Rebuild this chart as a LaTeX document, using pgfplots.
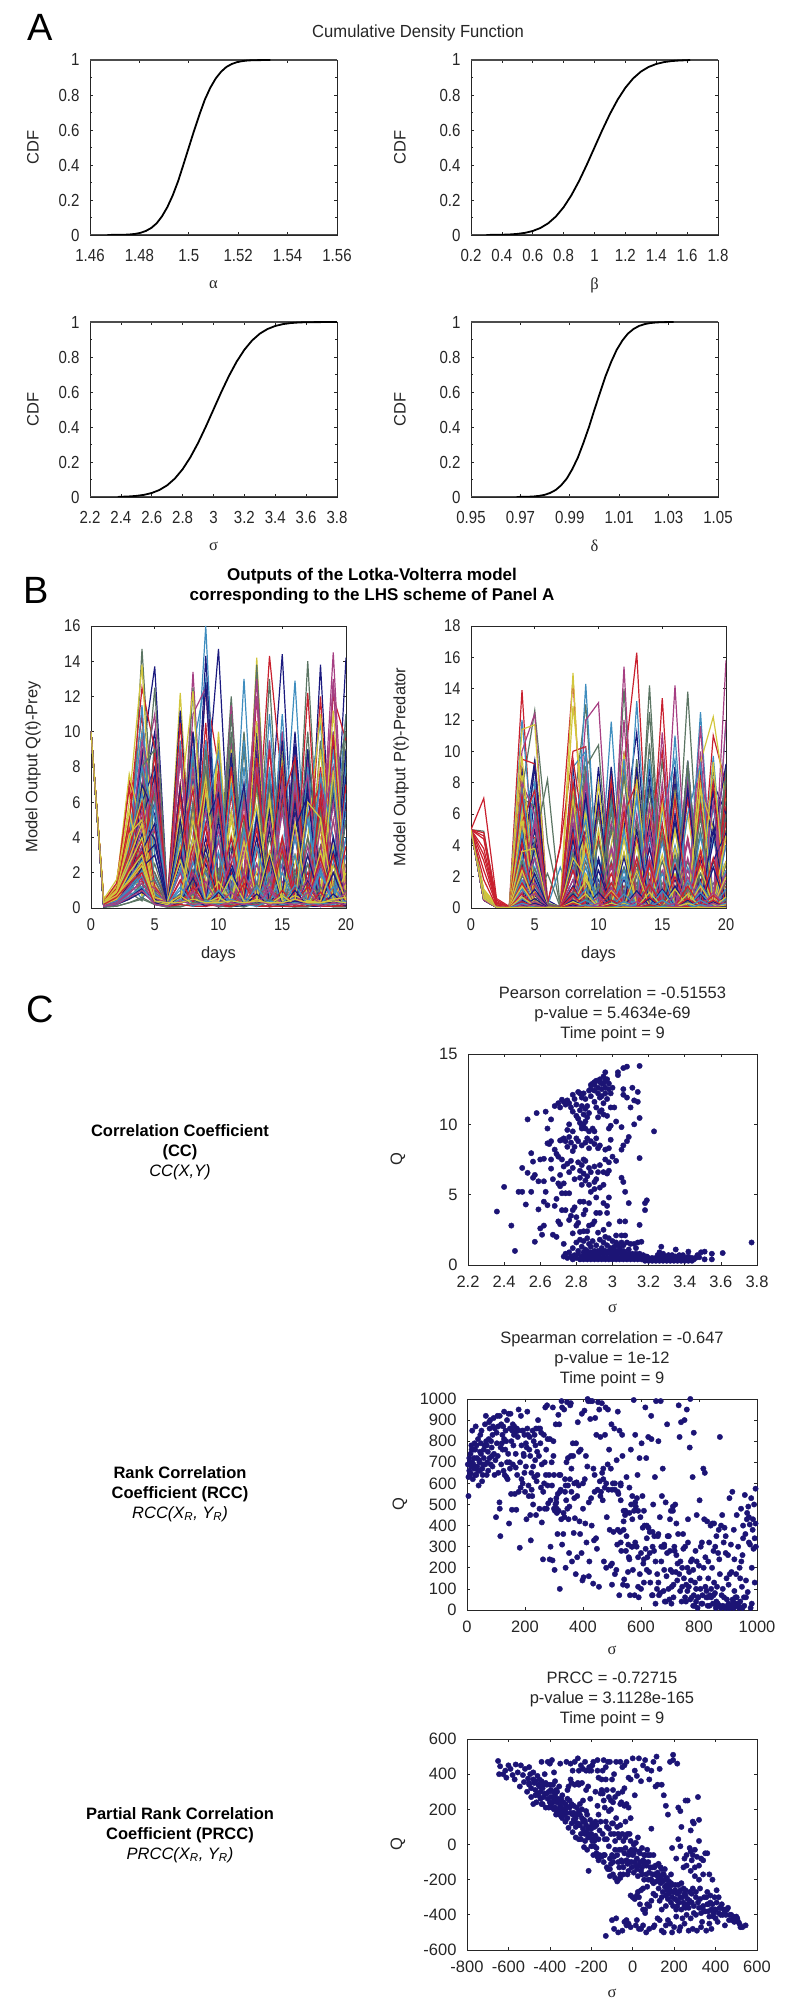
\documentclass[border=0pt]{standalone}
\usepackage{fontspec}
\usepackage{pgfplots}
\usepackage{pgfplotstable}
\pgfplotsset{compat=1.18}
\setmainfont{Liberation Sans}
\newfontfamily\narrowf[FakeStretch=0.86]{Liberation Sans}
\newfontfamily\titlef[FakeStretch=0.95]{Liberation Sans}
\newfontfamily\greekf{Liberation Serif}
\definecolor{lvn}{HTML}{1B1A7F}
\definecolor{lvg}{HTML}{5B7563}
\definecolor{lvr}{HTML}{C9202E}
\definecolor{lvt}{HTML}{3F8DBF}
\definecolor{lvp}{HTML}{A63F83}
\definecolor{lvy}{HTML}{D2C63C}
\definecolor{dots}{HTML}{1C1475}
\pgfplotscreateplotcyclelist{lv}{{lvn},{lvg},{lvr},{lvt},{lvp},{lvy}}

% CDF curves, one x column per panel
\pgfplotstableread{
x1 x2 x3 x4 y
1.4670 0.30 2.38 0.9685 0.0002
1.4739 0.40 2.40 0.9730 0.0013
1.4761 0.45 2.45 0.9753 0.0030
1.4783 0.50 2.50 0.9775 0.0062
1.4804 0.55 2.55 0.9798 0.0122
1.4826 0.60 2.60 0.9820 0.0228
1.4848 0.65 2.65 0.9843 0.0401
1.4870 0.70 2.70 0.9865 0.0668
1.4891 0.75 2.75 0.9888 0.1056
1.4913 0.80 2.80 0.9910 0.1587
1.4935 0.85 2.85 0.9933 0.2266
1.4957 0.90 2.90 0.9955 0.3085
1.4978 0.95 2.95 0.9978 0.4013
1.5000 1.00 3.00 1.0000 0.5000
1.5022 1.05 3.05 1.0023 0.5987
1.5044 1.10 3.10 1.0045 0.6915
1.5065 1.15 3.15 1.0068 0.7734
1.5087 1.20 3.20 1.0090 0.8413
1.5109 1.25 3.25 1.0113 0.8944
1.5131 1.30 3.30 1.0135 0.9332
1.5152 1.35 3.35 1.0158 0.9599
1.5174 1.40 3.40 1.0180 0.9772
1.5196 1.45 3.45 1.0203 0.9878
1.5218 1.50 3.50 1.0225 0.9938
1.5239 1.55 3.55 1.0248 0.9970
1.5261 1.60 3.60 1.0270 0.9987
1.5330 1.62 3.80 1.0320 1.0000
}\cdfdata

% prey, one row per run
\pgfplotstableread{
id 0 1 2 3 4 5 6 7 8 9 10 11 12 13 14 15 16 17 18 19 20
s1 10 .2 .7 2.6 8.5 13.7 .5 .3 1.4 6 14.7 .9 .3 1 4.5 14.4 .7 .3 13.8 .5 14.2
s2 10 .1 .3 1.5 14.7 3 .3 .5 2.5 8 1.2 12 .4 .4 2 9 .5 14 .7 .3 1.2
s3 10 .3 1 5 12.5 9 .5 .4 3 12.5 8 .5 .5 3 14.3 7 .5 .5 3 12 9.5
s4 10 .3 .9 4 10 3 .4 .8 4 16 1 .3 13 .5 .4 2.5 12.9 .5 .5 2.5 11
s5 10 .2 .6 2 7 11 .5 .5 13.4 1 .3 11.5 .5 .5 2 10 .6 .4 2 14.5 1
s6 10 .4 1.2 6 13.8 1 .3 12.2 .5 .3 10 .5 .4 14.2 .6 .5 2.5 5.5 4 1 8
s7 10 .2 .5 2 6 8 .4 11.2 .6 14.3 .8 .3 1 10 .5 8 .4 9 .5 .3 6
s8 10 .1 .3 1.2 4 12.5 .5 .3 12.5 .6 .3 10 .4 13.8 .5 .4 8.5 .4 .4 7 10
s9 10 .3 1.1 7.2 5 .8 .4 10.5 1 10.5 .8 .5 .9 12 1 .6 6 1 12 .6 .5
s10 10 .3 .8 3.5 11.5 1 .4 2 9 13 .6 .4 9.5 .7 1 11 .5 6 10.5 .5 8
s11 10 .2 .7 3 9.5 6 .4 .4 11 12.5 .5 .4 2 13 .5 2 9 .5 .5 12.8 .8
s12 10 .4 1.3 7.6 4.5 1 .5 6 12.3 .8 .4 7.6 .6 10.6 .7 9.4 .5 4 11 .7 1
s13 10 .1 .4 1.8 7 5.3 .3 6.8 .5 12.8 .5 8.8 .4 .6 7 .5 9.3 .5 6 .5 7.5
s14 10 .2 .4 1.4 8 9 .3 .5 6 .4 .4 11 .6 .3 13 .4 .4 10 .3 8 .4
s15 10 .4 1.4 6.8 2 7.2 .3 .6 4 9 1 .4 6 .4 9 1 .5 12.2 .6 .5 7
s16 10 .2 .6 3 8 5 .6 3 .5 9.5 .4 .6 7 .4 11 .5 .5 5.5 .5 9 .5
s17 10 .2 .5 2.4 5.5 .8 .4 8.5 .5 .4 6 .5 4 12 .5 .5 7 .5 .4 13 .5
s18 10 .5 1.6 5.5 2 1.1 .6 4.5 6.9 .5 .4 5.5 .9 6.7 .5 .6 3 .6 5 .4 .6
s19 10 .2 .6 2 5 3.9 .4 2.5 10 .5 .4 3 7 .4 .4 9.5 .4 6.5 2 .4 9
s20 10 .1 .2 1 3.5 6.5 .2 4.5 .3 9 .3 .3 5 .3 7 .3 6 .3 5.5 .3 11
s21 10 .3 .9 4.5 1.5 8.8 .5 .6 2.5 7 .5 8 .8 4.5 .6 6 8.5 .5 .5 9.8 .7
s22 10 .2 .7 2.8 6.5 .9 .5 4 .5 5.5 8.8 .5 .5 5.5 .5 7 .5 3 7 .4 3
s23 10 .2 .5 2.2 4.5 7 .4 .5 8 .5 3.8 .4 6 .5 5 .4 5 7.5 .4 6 .4
s24 10 .4 1 3.8 6.1 .7 .4 .5 3 7.4 .5 5 .5 2 6 .4 .9 .7 .5 11.2 .6
s25 10 .1 .4 1.6 4.2 1 .3 3.2 .3 4.8 6.5 .3 .4 4 .4 .9 4.5 6.4 .3 .3 5
s26 10 .1 .3 1 3 2 .2 .5 5 .3 2 .3 .3 7 .3 3 .3 4 .3 3 .3
s27 10 .3 1 3.3 6 1.2 .3 6.4 .5 3.5 6 .4 .5 7.5 2 .5 .4 5.2 7 .5 .5
s28 10 .2 .6 2.6 1 .6 .3 1 4 .4 .4 6.8 .4 .3 .8 5.5 .5 .5 7.5 4 .3
s29 10 .2 .4 1.5 3.5 4.5 .3 .3 3 5.5 .3 .3 3.2 .3 .3 7 .3 .3 4.5 8 .3
s30 10 .3 .9 4.2 5 .9 .5 5.2 .5 6.7 .6 4.2 .6 .5 6.3 .5 3 .5 .5 7.8 .4
s31 10 .1 .3 1.2 2.8 3.6 .3 5 .3 3.4 .3 2.5 .4 .4 3 .3 6 .3 .3 4 .3
s32 10 .1 .2 .8 2.2 .9 .2 .3 1.5 3 .2 .2 1.8 .2 4 .2 .2 2.5 .2 .2 5
s33 10 .3 .8 3 4.8 .7 .3 3 6.7 .4 .9 4 .4 .4 2.6 8 .4 .4 6 .4 3.5
s34 10 .2 .5 2 3 5.9 .4 .4 .7 2 .4 .4 4.5 .4 2 .4 .4 5 .4 .4 6.5
s35 10 .2 .4 1.3 2.5 1.5 .3 2 .3 .3 7.4 .3 .3 2.5 .3 5.5 .3 3.5 .3 5 .3
s36 10 .3 1 2.8 4.8 .5 .4 .5 5 1.5 .4 .4 3 5.8 .4 .4 4.8 .5 3.2 .4 2
s37 10 .1 .3 1.4 3.2 4.8 .3 .3 2 .3 5 .3 .3 5.2 .3 .3 .3 3 .3 3.2 .3
s38 10 .1 .2 .6 1.4 .7 .1 .8 .2 2.2 .2 1.1 .2 .2 1.6 .2 2 .2 .7 .2 1
s39 10 .3 .8 2.2 3.8 .6 .3 .4 .9 4.8 .4 2.5 5.3 .4 .4 4 .5 .5 2.8 .5 .5
s40 10 .2 .5 1.7 2.7 .8 .3 2.2 .3 .3 3.2 .3 .3 3.5 .8 .3 3 .3 2 .3 4
s41 10 .2 .4 1.2 2 .5 .3 .3 2 .4 .3 3 .3 .3 1.5 3.5 .3 .3 2.5 .3 .3
s42 10 .3 .9 2.5 4 .6 .4 2.7 .5 .4 1.5 .4 3.8 .5 .4 2 .4 6 5.1 .5 .4
s43 10 .1 .3 1 2.3 3 .2 .3 1.7 .2 .2 2.2 .2 .2 3 .2 .2 1.6 .2 2 .2
s44 10 .1 .2 .5 1.2 1.6 .1 .2 .8 .1 1 .1 .1 1.4 .1 .7 .1 .1 1.2 .1 .1
s45 10 .2 .7 2.1 3.2 .4 .2 1.6 .3 2.8 .3 .3 1.8 .3 .3 3.3 .3 1.2 .3 3 .2
s46 10 .2 .4 1.1 2.1 .4 .3 .3 2.6 .3 .3 1.8 .3 .3 .3 2 .3 .3 2.2 .3 .3
s47 10 .1 .3 .8 1.6 1.1 .2 .2 1 1.5 .2 .2 2 .2 1.2 .2 .2 1.7 .2 .2 1.5
s48 10 .2 .6 2 3 .3 .3 .4 4 .4 .4 1.8 .4 .4 3.2 .4 .7 .4 .4 2.4 .4
s49 10 .05 .2 .6 1.1 .5 .1 .7 .1 .1 .9 .1 .1 .8 .1 .1 1 .1 .1 .8 .1
s50 10 .05 .1 .3 .6 .2 .05 .1 .2 .5 .1 .05 .3 .1 .5 .1 .05 .3 .1 .1 .4
s51 10 .2 .5 1.6 2.5 .3 .1 .2 1.2 .2 .1 .1 1.4 .2 .1 1 .1 .1 .9 .1 .1
s52 10 .1 .3 1 1.8 .3 .2 1.2 .2 .2 1 .2 .2 1.2 .2 .2 1.3 .2 .2 1.2 .2
s53 10 .1 .3 .9 1.4 .3 .2 .2 .9 .2 .2 .9 .2 .2 1 .2 .2 .9 .2 .2 .9
s54 10 .2 .5 1.5 2.4 .3 .2 .7 .2 .3 .6 .2 .2 .5 .2 .7 .2 .4 .3 .5 .6
s55 10 .05 .2 .5 .9 .3 .1 .3 .5 .1 .3 .4 .1 .3 .4 .1 .4 .2 .1 .4 .1
s56 10 .05 .1 .3 .5 .2 .05 .05 .3 .4 .05 .2 .05 .3 .05 .2 .05 .05 .3 .05 .05
s57 10 .2 .6 1.4 2 .2 .1 .2 .1 .1 .2 .1 .3 .1 .1 .1 .1 .2 .1 .1 .2
s58 10 .1 .2 .7 1.2 .2 .1 .5 .1 .4 .2 .5 .2 .1 .4 .2 .3 .2 .3 .2 .4
s59 10 .1 .2 .6 1 .2 .1 .4 .2 .3 .1 .3 .2 .4 .2 .3 .2 .3 .1 .3 .2
s60 10 .3 .7 1.6 2.6 .4 .3 .3 .5 .3 .3 .4 .3 .4 .3 .3 .5 .3 .3 .4 .3
s61 10 .2 .6 3 9 .5 .3 7 .5 9.5 .4 8.5 .5 9 .4 10 .5 9 .4 9.5 .5
s62 10 .1 .4 2 .8 9.5 .4 .4 8.5 .5 9.5 .4 9 .4 9.5 .4 8 .4 9.5 .4 10
s63 10 .3 1 4.5 8 .6 .5 8.5 .6 .5 8 .6 .5 8.5 .6 .5 9 .6 .5 8 .6
s64 10 .2 .7 3.2 .7 7 .4 .4 9 .4 .4 9 .4 .5 8 .5 .4 9 .4 .5 9
s65 10 .2 .5 2.5 7 .5 .4 .4 .7 9 .5 .4 .5 9.5 .5 .5 .4 8.5 .5 .5 .4
s66 10 .3 .9 5 10 .7 .5 9 .6 .5 9 .6 .5 8 .6 8.5 .5 .6 9 .5 9
s67 10 .1 .4 2 6 10 .4 .4 7.5 .4 .4 7 .4 10.5 .4 .4 10 .4 .4 10 .4
s68 10 .2 .5 2.4 8 .4 .4 6 .4 .4 7 .8 10 .4 .4 7 .4 7.5 .5 .4 7
s69 10 .3 1 5 11 .7 .4 .5 10 .5 .4 6.5 .5 8 .5 .5 7.5 .5 8 .5 6
s70 10 .2 .6 3 .9 8 .4 9.5 .4 7.5 .5 .4 8 .4 7.5 .4 .4 8 .4 .4 8.5
s71 10 .2 .6 2.4 9 .5 .4 9 .6 8 .4 9.5 .4 .5 9.5 .4 8 .4 .5 10 .5
s72 10 .4 1.1 4 7 .6 .5 .5 8 .6 .5 9 .6 .5 .6 7.5 .5 .5 6 .6 .5
s73 10 .1 .3 1.6 5 7.5 .3 .3 5.5 .3 6.5 .3 .3 7.5 .3 6.5 .3 7 .3 6.5 .3
s74 10 .1 .3 1.4 6 .5 .3 5 .3 6.5 .3 .3 6.5 .3 6 .3 7 .3 .3 7 .3
s75 10 .3 .9 4 6.5 .6 .4 7 .5 .5 6.5 .5 7 .5 .5 7 .5 .5 7.5 .5 7
s76 10 .2 .6 2.6 .8 6 .4 .4 7 .4 .4 7 .4 .4 7.5 .4 7.5 .4 .4 7 .4
s77 10 .2 .5 2.2 6 .5 .4 6 .4 7 .4 .4 .5 8 .4 .4 7 .4 7.5 .4 .4
s78 10 .4 1.2 5 5.5 .7 .5 .6 5.5 .5 5.5 .5 .5 5 .5 8 .5 .5 4.5 .5 7.5
s79 10 .1 .4 1.8 3 6 .3 .3 .5 6 .3 5.5 .3 .3 5.5 .3 5.5 .3 .3 6 .3
s80 10 .1 .3 1.2 5 .4 .2 5 .3 .3 5.5 .3 4.5 .3 .3 6 .3 .3 5.5 .3 5
s81 10 .3 1 4.2 .8 6 .4 .4 6 .4 .4 6.5 .4 5 .4 .4 6.5 .4 6.5 .4 .4
s82 10 .2 .6 2.8 5 .5 .4 4 .4 5.5 .4 .4 4.5 .4 5 .4 .4 5.5 .4 .4 5.5
s83 10 .2 .5 2.3 4 .4 .3 .3 5 .3 4.5 .3 .3 5 .3 .3 4.5 .3 5 .3 .4
s84 10 .4 1.1 4.6 7 .6 .5 4 .5 .5 4 .5 5 .5 4.5 .5 .5 4 .5 5 .5
s85 10 .1 .4 1.6 3.5 .4 .3 3.5 .3 4 .3 4 .3 .3 4.5 .3 4 .3 3.5 .3 4
s86 10 .1 .3 1 2.5 4 .2 .3 3.5 .3 .3 3.5 .3 3.5 .3 3.8 .3 .3 3.5 .3 .3
s87 10 .3 .9 3.5 .9 4.5 .4 .4 3.5 4.5 .4 .4 4 .4 .4 4 .4 4 .4 4 .4
s88 10 .2 .6 2 4.2 .4 .3 3 .3 .3 4 .3 .3 3.5 .3 .3 4 .3 .3 3.5 .3
s89 10 .2 .5 1.8 3 .4 .3 .3 3 .3 3 .3 3.5 .3 3 .3 3 .3 3 .3 3
s90 10 .4 1 3.6 5 .5 .4 3.5 .4 3.5 .4 3 .4 3.5 .4 3.5 .4 3 .4 3.5 .4
s91 10 .1 .3 1.2 2.5 .3 .2 2.2 .2 2.5 .2 2.5 .2 2.5 .2 2.5 .2 2.5 .2 2.5 .2
s92 10 .1 .2 .9 .4 2.5 .2 .2 2.2 .2 2.2 .2 2.2 .2 2.5 .2 2.2 .2 2.2 .2 2.5
s93 10 .3 .8 2.8 1.5 2 .3 2 .3 2 .3 2 .3 2 .3 2 .3 2 .3 2 .3
s94 10 .2 .5 1.5 .5 1.8 .3 .3 1.8 .3 1.8 .3 1.8 .3 1.8 .3 1.8 .3 1.8 .3 1.8
s95 10 .2 .4 1.2 1.8 .3 .2 1.5 .2 1.5 .2 1.5 .2 1.5 .2 1.5 .2 1.5 .2 1.5 .2
s96 10 .3 .8 2.5 .7 1.3 .3 .3 1.3 .3 1.3 .3 1.3 .3 1.3 .3 1.3 .3 1.3 .3 1.3
}\preyraw
\pgfplotstabletranspose[colnames from=id]\preydata{\preyraw}

% predator, one row per run
\pgfplotstableread{
id 0 1 2 3 4 5 6 7 8 9 10 11 12 13 14 15 16 17 18 19 20
s1 5 .6 .05 .02 4 9.4 .5 .05 3 7.2 .5 .1 5 11.2 .5 .05 9 .5 .1 8 6
s2 5 .8 .1 .02 7.5 12.6 4.2 .1 6 13 1 .1 14 .5 14.2 .3 .2 13.8 .5 .1 9
s3 5 7 .6 .1 13.9 1 .2 4 14.6 .8 .1 .3 9 16.3 .6 13.4 .4 .2 .8 11 7.9
s4 5 1 .1 .02 12 3 .1 2.6 .5 14.3 .3 11.9 .2 13.2 .2 .1 11 .2 12.5 .2 11.9
s5 5 .6 .05 .01 10 12.4 .3 .05 .8 12 13.1 .2 15.4 .2 .1 .5 14.2 .1 .2 .3 15.8
s6 5 1.2 .2 .02 11.4 11.7 .3 .1 15 .4 .1 4 9.8 .4 .1 5 .2 .1 9.3 12.2 6.8
s7 5 .8 .1 .02 3.5 4.2 .2 .1 2.5 5 .3 9 .2 .3 4.9 .2 .1 9.4 .2 .1 6
s8 5 4.9 .3 .02 .5 4.2 8.2 .1 .8 9 10.4 .1 .1 2 12.5 .2 .1 9 .2 .1 8.3
s9 5 4.8 .5 .05 9.5 9.2 .3 3.9 10 10.3 .2 8.2 .1 .2 5 10 .2 7 .1 .2 7.5
s10 5 .9 .1 .01 6.5 8 .2 .1 9 10 .1 .3 9.5 .2 .3 6 9.5 .1 .2 9.7 .4
s11 5 .7 .1 .01 8 6 .2 .1 4.9 8 .1 .3 12 .1 5 .1 7 .1 11.6 .1 .2
s12 5 1 .2 .02 6 .5 .2 .1 12.9 5 .1 .2 8.4 4 .1 .1 5 .1 7.6 5 .1
s13 5 .7 .1 .01 2.5 9 .2 .05 5 .4 7 .1 .2 9 .1 .1 6 .1 .2 4.2 9.2
s14 5 .8 .1 .01 3 .4 2.2 .05 7 .2 .1 6.2 .1 .2 10.5 .1 .1 9.4 .1 .1 6
s15 5 4.6 .4 .03 5.5 7.5 .2 .1 9.5 4 .1 .2 6 8 .2 7.2 .2 .1 3 8 .2
s16 5 .8 .1 .01 7.5 2 .1 .1 4 10 .2 .1 5 .2 9.5 .1 .1 6 9.2 .1 .1
s17 5 .7 .1 .01 .5 5.5 .2 .05 .5 8 .1 .2 7 .1 .1 11.2 .1 8 .1 .1 12
s18 5 1.1 .2 .02 9.7 .6 .1 .05 7 .3 5 .1 .1 8.2 .1 .1 7.2 .1 .1 9.3 .1
s19 5 .6 .1 .01 4.5 .3 .1 .05 .4 7.2 .1 .1 3.2 .1 3.8 .1 .1 7.6 .1 3 4.8
s20 5 .7 .1 .01 1 2.5 .3 .05 3.5 .2 6 .1 8.5 .1 .1 4.8 .1 .2 5.8 .1 2.8
s21 5 4.4 .3 .02 7.2 .4 .1 .1 8 3.5 .1 .1 6.2 .2 3 .1 7 .1 2.8 .1 5.5
s22 5 .9 .1 .01 4.8 .3 .1 .05 2.5 5.6 .1 3.8 .1 7.2 .1 .1 3.2 .1 4.6 .1 2.4
s23 5 .6 .1 .01 2 5.5 .1 .05 6.2 .1 .1 2.6 .1 .1 6.5 .1 .1 4.4 .1 6.8 .1
s24 5 1.1 .2 .02 5.6 .4 .1 .05 .4 4.2 .1 .1 4.4 .2 .1 6.6 .1 .1 7.8 .1 3
s25 5 .7 .1 .01 .4 3.8 .1 .05 4.4 .1 3 .1 .1 5 .1 .1 2.6 .1 .1 5 .1
s26 5 .7 .1 .01 2 1.5 .1 .1 1 .1 4.2 .1 2.6 .1 1.4 .1 3.4 .1 2.2 .1 .1
s27 5 3.8 .3 .02 4.2 .3 .1 .05 4.8 .2 .1 2.2 .1 3.2 .1 5.4 .1 .1 3.6 .1 .1
s28 5 .8 .1 .01 3.4 .2 .1 .05 .2 3.4 .1 .1 2.4 .1 .1 4.2 .1 1.8 .1 .1 4
s29 5 .6 .1 .01 1.5 3.2 .1 .05 2.4 .1 .1 3.8 .1 .1 3.2 .1 .1 3.2 .1 .1 2.2
s30 5 1 .2 .02 3.6 3.8 .1 .05 3.2 2 .1 .1 3.6 .1 .1 3.4 .1 .1 2.6 .1 4.6
s31 5 .6 .1 .01 .3 2.2 .1 .05 1.4 .1 2.4 .1 .1 2.4 .1 .1 1.4 .1 .1 2.6 .1
s32 5 .5 .1 .01 .2 .9 .1 .05 .4 .1 1.4 .1 .2 .1 1.6 .1 .1 1.2 .1 .1 1.6
s33 5 3.4 .3 .02 2.6 .3 .1 .05 2.4 .1 .1 1.6 .1 .1 2.8 .1 2 .1 .1 3.2 .1
s34 5 .7 .1 .01 1.8 .2 .1 .05 .2 2.6 .1 .1 2 .1 .1 2.2 .1 .1 1.6 .1 1.2
s35 5 .5 .1 .01 1 1.6 .1 .05 1.8 .1 .1 1.3 .1 .1 1.7 .1 .1 2 .1 .1 1.8
s36 5 .9 .2 .02 2.4 .3 .1 .05 .3 1.8 .1 1.1 .1 2.4 .1 .1 1.2 .1 1.4 .1 2
s37 5 .5 .1 .01 .2 1.2 .1 .05 .9 .1 1 .1 .1 1.1 .1 1.2 .1 .1 .9 .1 .1
s38 5 .5 .05 .01 .1 .3 .05 .02 .1 .6 .05 .05 .4 .05 .05 .5 .05 .4 .05 .05 .5
s39 5 3 .2 .02 1.6 .2 .1 .05 1.3 .1 .1 1 .1 .1 1.5 .1 .1 1.4 .1 .8 .1
s40 5 .7 .1 .01 1.2 .2 .05 .05 .2 1.2 .05 .05 .9 .05 .05 1.1 .05 .05 1 .05 .6
s41 5 .5 .05 .01 .6 .9 .05 .02 .7 .05 .7 .05 .05 .9 .05 .05 .8 .05 .05 1 .05
s42 5 .8 .1 .01 1.4 .2 .05 .02 .2 .9 .05 .05 .3 .02 1 .05 .05 .9 .05 .05 .7
s43 5 .5 .05 .01 .1 .6 .05 .02 .5 .05 .05 .5 .05 .05 .6 .05 .05 .5 .05 .4 .05
s44 5 .5 .05 .01 .05 .2 .02 .01 .1 .2 .02 .02 .2 .02 .02 .2 .02 .02 .2 .02 .02
s45 5 2.4 .2 .02 .9 .1 .05 .02 .8 .05 .05 .5 .05 .05 .7 .05 .05 .6 .05 .5 .05
s46 5 .6 .1 .01 .6 .1 .05 .02 .1 .5 .05 .05 .4 .05 .05 .5 .05 .05 .5 .05 .3
s47 5 .5 .05 .01 .2 .4 .02 .02 .3 .02 .3 .02 .02 .4 .02 .02 .3 .02 .02 .3 .02
s48 5 .7 .1 .01 .7 .1 .05 .02 .4 .05 .05 .3 .05 .05 .2 .05 .05 .3 .05 .05 .2
s49 5 .5 .05 .01 .05 .3 .02 .01 .2 .02 .02 .2 .02 .02 .2 .02 .02 .1 .02 .02 .1
s50 5 .5 .05 .01 .02 .1 .01 .01 .05 .02 .01 .1 .01 .01 .1 .01 .01 .05 .01 .01 .05
s51 5 1.8 .1 .01 .4 .05 .02 .01 .3 .02 .02 .2 .02 .02 .2 .02 .02 .1 .02 .02 .02
s52 5 .6 .05 .01 .3 .05 .02 .01 .05 .2 .02 .02 .2 .02 .02 .1 .02 .02 .2 .02 .02
s53 5 .5 .05 .01 .1 .2 .02 .01 .1 .02 .1 .02 .02 .1 .02 .02 .1 .02 .02 .1 .02
s54 5 .6 .05 .01 .05 .02 .01 .01 .02 .02 .01 .01 .01 .01 .01 .01 .01 .01 .01 .01 .01
s55 5 .8 .1 .02 9 .4 .1 .05 9 .4 9 .3 9.5 .3 9 .3 9 .3 9 .3 9
s56 5 .7 .1 .02 .5 9.5 .2 .05 .4 10 .3 9 .3 9.5 .3 9.5 .3 9 .3 9 .3
s57 5 .9 .1 .02 8 .4 .1 .05 8 .3 .3 8 .3 8.5 .3 .3 9 .3 8.5 .3 8
s58 5 .8 .1 .02 .5 8 .2 .05 .3 8.5 .3 .3 9 .3 8 .3 .3 8.5 .3 8 .3
s59 5 .7 .1 .02 7 .4 .1 .05 .4 9 .3 .3 10 .3 .3 8 .3 .3 10 .3 .3
s60 5 1 .2 .02 8.5 .5 .1 .05 7.5 .4 8 .3 .3 9 .3 .3 8 .3 .3 8 .3
s61 5 .8 .1 .02 .4 7 .1 .05 7 .3 .3 7.5 .3 .3 8 .3 8 .3 .3 7.5 .3
s62 5 .8 .1 .02 7 6.5 .2 .05 .4 7 .3 7 .3 .3 7.5 .3 7.5 .3 7 .3 7
s63 5 1 .2 .02 6 .4 .1 .05 6.5 .3 6.5 .3 7 .3 6.5 .3 7 .3 6.5 .3 6.5
s64 5 .8 .1 .02 .4 6 .1 .05 .3 6.5 .3 6.5 .3 7 .3 6.5 .3 7 .3 6.5 .3
s65 5 .7 .1 .02 5.5 .3 .1 .05 5.5 .3 .3 5.5 .3 6 .3 .3 6 .3 6 .3 6
s66 5 1 .2 .02 6.5 .4 .1 .05 .3 6 .3 .3 5.5 .3 6 .3 .3 6 .3 5.5 .3
s67 5 .7 .1 .02 .3 5 .1 .05 5 .3 .3 5 .3 .3 5.5 .3 5.5 .3 .3 5.5 .3
s68 5 .8 .1 .02 5 .3 .1 .05 .3 5 .3 5 .3 5.5 .3 .3 5 .3 5 .3 5
s69 5 1 .2 .02 4.5 4.5 .1 .05 4.5 .3 4.5 .3 .3 4.5 .3 4.5 .3 4.5 .3 .3 4.5
s70 5 .7 .1 .02 .3 4 .1 .05 .3 4.5 .3 .3 4.5 .3 4.5 .3 4 .3 .3 4.5 .3
s71 5 .8 .1 .02 4 .3 .1 .05 3.8 .3 .3 4 .3 .3 4 .3 .3 4.2 .3 .3 4
s72 5 1 .2 .02 3.5 .3 .1 .05 .3 3.8 .3 3.5 .3 4 .3 .3 3.8 .3 3.8 .3 .3
s73 5 .7 .1 .02 .3 3.2 .1 .05 3.2 .2 3.2 .2 3.5 .2 3 .2 3.2 .2 3.2 .2 3
s74 5 .7 .1 .02 3 .2 .1 .05 .2 3 .2 3 .2 3.2 .2 3 .2 3 .2 3 .2
s75 5 1 .2 .02 2.8 .3 .1 .05 2.8 .2 .2 2.8 .2 2.8 .2 .2 2.8 .2 2.8 .2 2.8
s76 5 .7 .1 .02 .2 2.6 .1 .05 .2 2.6 .2 .2 2.6 .2 2.6 .2 .2 2.6 .2 2.6 .2
s77 5 .6 .1 .02 2.4 .2 .1 .05 2.4 .2 2.4 .2 .2 2.4 .2 2.4 .2 2.4 .2 .2 2.4
s78 5 .9 .1 .02 2.2 2 .1 .05 .2 2.2 .2 2.2 .2 .2 2.2 .2 2.2 .2 2.2 .2 .2
s79 5 .6 .1 .02 .2 1.8 .05 .02 1.8 .2 1.8 .2 1.8 .2 1.8 .2 1.8 .2 1.8 .2 1.8
s80 5 .6 .1 .02 1.6 .2 .05 .02 .2 1.6 .2 1.6 .2 1.6 .2 1.6 .2 1.6 .2 1.6 .2
s81 5 .9 .1 .02 1.5 .2 .05 .02 1.4 .2 1.5 .2 1.4 .2 1.5 .2 1.4 .2 1.5 .2 1.4
s82 5 .6 .1 .02 .2 1.4 .05 .02 .2 1.3 .2 1.3 .2 1.3 .2 1.3 .2 1.3 .2 1.3 .2
s83 5 .6 .05 .02 1.2 .1 .05 .02 1.1 .1 1.2 .1 1.1 .1 1.2 .1 1.1 .1 1.2 .1 1.1
s84 5 .8 .1 .02 1 .1 .05 .02 .1 1 .1 1 .1 1 .1 1 .1 1 .1 1 .1
s85 5 .5 .05 .01 .1 .8 .02 .02 .8 .1 .8 .1 .8 .1 .8 .1 .8 .1 .8 .1 .8
s86 5 .5 .05 .01 .7 .1 .02 .02 .1 .7 .1 .7 .1 .7 .1 .7 .1 .7 .1 .7 .1
s87 5 .7 .1 .01 .6 .1 .02 .02 .6 .1 .6 .1 .6 .1 .6 .1 .6 .1 .6 .1 .6
s88 5 .5 .05 .01 .1 .5 .02 .02 .1 .5 .1 .5 .1 .5 .1 .5 .1 .5 .1 .5 .1
s89 5 .5 .05 .01 .4 .05 .02 .01 .4 .05 .4 .05 .4 .05 .4 .05 .4 .05 .4 .05 .4
s90 5 .7 .1 .01 .3 .05 .02 .01 .05 .3 .05 .3 .05 .3 .05 .3 .05 .3 .05 .3 .05
}\predraw
\pgfplotstabletranspose[colnames from=id]\preddata{\predraw}

\pgfplotsset{
  panel/.style={
    scale only axis,
    tick align=inside,
    tick pos=both,
    major tick length=3pt,
    minor tick length=2pt,
    axis line style={line width=0.9pt,black!85},
    tick style={line width=0.7pt,black!85},
    scaled ticks=false,
    /pgf/number format/assume math mode=true,
    /pgf/number format/1000 sep={},
    /pgf/number format/fixed,
    /pgf/number format/precision=2,
    xticklabel style={yshift=-7pt},
    yticklabel style={xshift=-7pt},
  },
  lab/.style 2 args={
    xlabel style={at={(axis description cs:0.5,0)},anchor=center,yshift=#1},
    ylabel style={at={(axis description cs:0,0.5)},anchor=center,yshift=#2},
  },
  cdf/.style={
    panel,
    width=247pt,height=175pt,
    xticklabel style={yshift=-4pt},
    tick label style={font=\narrowf\fontsize{17.5}{20}\selectfont,black!85},
    label style={font=\fontsize{16.5}{19}\selectfont,black!85},
    ymin=0,ymax=1,ytick={0,0.2,...,1},minor y tick num=1,
    ylabel={CDF},
  },
  lvaxis/.style={
    panel,
    width=255pt,height=282pt,
    xmin=0,xmax=20,xtick={0,5,...,20},
    tick label style={font=\narrowf\fontsize{17}{20}\selectfont,black!85},
    label style={font=\fontsize{16.5}{19}\selectfont,black!85},
    cycle list name=lv,
    xlabel={days},
  },
  scat/.style={
    panel,
    width=289pt,height=211pt,
    tick label style={font=\fontsize{16.5}{20}\selectfont,black!85},
    label style={font=\fontsize{16.5}{19}\selectfont,black!85},
    title style={at={(axis description cs:0.5,1)},anchor=south,yshift=3pt,align=center,
      font=\fontsize{16.5}{20}\selectfont,text=black!85},
    xlabel={\greekf σ},ylabel={Q},
  },
  dotplot/.style={only marks,mark=*,mark size=2.7pt,mark options={draw=dots,fill=dots},dots},
  edge/.style={line width=2.2pt,black!70,forget plot},
}

\begin{document}
\begin{tikzpicture}
\useasboundingbox (0pt,0pt) rectangle (800pt,2013pt);

\node[font=\fontsize{38}{40}\selectfont] at (40pt,1986pt) {A};
\node[font=\titlef\fontsize{17.5}{20}\selectfont,text=black!85] at (418pt,1980pt) {Cumulative Density Function};
\node[font=\fontsize{38}{40}\selectfont] at (36pt,1423pt) {B};
\node[font=\bfseries\fontsize{17}{19.5}\selectfont,align=center] at (372pt,1427pt)
  {Outputs of the Lotka-Volterra model\\corresponding to the LHS scheme of Panel A};
\node[font=\fontsize{38}{40}\selectfont] at (40pt,1004pt) {C};

\node[align=center,font=\fontsize{16.5}{20}\selectfont] at (180pt,861pt)
  {\textbf{Correlation Coefficient}\\\textbf{(CC)}\\\textit{CC(X,Y)}};
\node[align=center,font=\fontsize{16.5}{20}\selectfont] at (180pt,519pt)
  {\textbf{Rank Correlation}\\\textbf{Coefficient (RCC)}\\\textit{RCC(X\textsubscript{R}, Y\textsubscript{R})}};
\node[align=center,font=\fontsize{16.5}{20}\selectfont] at (180pt,178pt)
  {\textbf{Partial Rank Correlation}\\\textbf{Coefficient (PRCC)}\\\textit{PRCC(X\textsubscript{R}, Y\textsubscript{R})}};

% panel A
\begin{axis}[cdf,at={(90pt,1778pt)},anchor=south west,lab={-50pt}{57pt},
  xmin=1.46,xmax=1.56,xtick={1.46,1.48,...,1.56},xlabel={\greekf α}]
\addplot[edge] coordinates {(1.46,0)(1.56,0)};
\addplot[edge] coordinates {(1.46,1)(1.56,1)};
\addplot[black,line width=1.8pt] table[x=x1,y=y] {\cdfdata};
\end{axis}
\begin{axis}[cdf,at={(471pt,1778pt)},anchor=south west,lab={-50pt}{71pt},
  xmin=0.2,xmax=1.8,xtick={0.2,0.4,...,1.8},xlabel={\greekf β}]
\addplot[edge] coordinates {(0.2,0)(1.8,0)};
\addplot[edge] coordinates {(0.2,1)(1.8,1)};
\addplot[black,line width=1.8pt] table[x=x2,y=y] {\cdfdata};
\end{axis}
\begin{axis}[cdf,at={(90pt,1516pt)},anchor=south west,lab={-49pt}{57pt},
  xmin=2.2,xmax=3.8,xtick={2.2,2.4,...,3.8},xlabel={\greekf σ}]
\addplot[edge] coordinates {(2.2,0)(3.8,0)};
\addplot[edge] coordinates {(2.2,1)(3.8,1)};
\addplot[black,line width=1.8pt] table[x=x3,y=y] {\cdfdata};
\end{axis}
\begin{axis}[cdf,at={(471pt,1516pt)},anchor=south west,lab={-49pt}{71pt},
  xmin=0.95,xmax=1.05,xtick={0.95,0.97,...,1.05},xlabel={\greekf δ}]
\addplot[edge] coordinates {(0.95,0)(1.05,0)};
\addplot[edge] coordinates {(0.95,1)(1.05,1)};
\addplot[black,line width=1.8pt] table[x=x4,y=y] {\cdfdata};
\end{axis}

% panel B
\begin{axis}[lvaxis,at={(91pt,1105pt)},anchor=south west,lab={-46pt}{58pt},
  ymin=0,ymax=16,ytick={0,2,...,16},ylabel={Model Output Q(t)-Prey}]
\pgfplotsinvokeforeach{61,...,96}{
  \addplot+[no markers,line width=1.2pt] table[x=colnames,y=s#1] {\preydata};
}
\pgfplotsinvokeforeach{1,...,60}{
  \addplot+[no markers,line width=1.2pt] table[x=colnames,y=s#1] {\preydata};
}
\end{axis}
\begin{axis}[lvaxis,at={(471pt,1105pt)},anchor=south west,lab={-46pt}{70pt},
  ymin=0,ymax=18,ytick={0,2,...,18},ylabel={Model Output P(t)-Predator}]
\pgfplotsinvokeforeach{55,...,90}{
  \addplot+[no markers,line width=1.2pt] table[x=colnames,y=s#1] {\preddata};
}
\pgfplotsinvokeforeach{1,...,54}{
  \addplot+[no markers,line width=1.2pt] table[x=colnames,y=s#1] {\preddata};
}
\end{axis}

% panel C, first scatter
\begin{axis}[scat,at={(468pt,748pt)},anchor=south west,lab={-43pt}{70pt},
  xmin=2.2,xmax=3.8,xtick={2.2,2.4,...,3.8},ymin=0,ymax=15,ytick={0,5,10,15},
  title={Pearson correlation = -0.51553\\p-value = 5.4634e-69\\Time point = 9}]
\addplot[dotplot] coordinates {
(2.36,3.8)(2.40,5.55)(2.44,2.8)(2.46,1.0)(2.48,5.2)(2.50,5.2)(2.50,6.9)(2.53,10.35)(2.52,4.3)(2.53,6.55)
(2.55,7.95)(2.55,5.2)(2.56,6.2)(2.56,7.35)(2.57,1.65)(2.58,10.8)(2.57,6.4)(2.59,5.95)(2.59,3.95)(2.60,2.6)
(2.61,2.15)(2.62,2.8)(2.60,7.5)(2.62,7.55)(2.62,5.95)(2.63,5.2)(2.62,4.5)(2.64,4.25)(2.63,10.9)(2.64,9.7)
(2.64,8.65)(2.66,10.35)(2.66,8.8)(2.65,8.6)(2.66,7.5)(2.66,6.85)(2.67,6.1)(2.68,4.2)(2.69,4.7)(2.67,2.15)
(2.69,2.0)(2.70,3.1)(2.71,2.9)(2.72,3.9)(2.73,1.5)(2.68,8.2)(2.69,7.9)(2.70,7.7)(2.71,8.85)(2.72,8.9)
(2.73,9.0)(2.74,8.8)(2.72,7.5)(2.73,7.0)(2.71,6.4)(2.70,5.8)(2.71,5.6)(2.72,5.1)(2.73,5.8)(2.74,5.1)
(2.76,5.1)(2.74,3.9)(2.76,3.2)(2.77,3.5)(2.78,3.9)(2.79,4.1)(2.80,3.4)(2.81,3.0)(2.80,2.8)(2.78,2.25)
(2.82,2.35)(2.84,2.4)(2.82,4.5)(2.84,4.5)(2.87,4.4)(2.85,3.9)(2.84,3.6)(2.87,2.8)(2.89,2.9)(2.90,3.1)
(2.86,2.4)(2.91,3.7)(2.93,3.7)(2.95,4.4)(2.91,4.8)(2.98,4.8)(2.97,4.2)(2.97,3.7)(2.95,2.5)(2.98,2.9)
(3.04,3.1)(3.07,3.1)(3.02,2.1)(3.05,2.1)(3.07,2.1)(2.75,7.2)(2.77,7.4)(2.78,6.9)(2.76,6.6)(2.79,6.1)
(2.81,7.3)(2.83,7.1)(2.84,7.5)(2.85,7.4)(2.82,6.7)(2.84,6.5)(2.86,6.3)(2.87,6.9)(2.88,6.6)(2.85,6.0)
(2.82,6.2)(2.83,5.7)(2.87,5.7)(2.88,5.2)(2.90,5.9)(2.91,6.1)(2.92,6.6)(2.90,7.0)(2.93,7.1)(2.95,6.6)
(2.97,6.5)(2.98,6.7)(2.96,7.5)(2.98,7.3)(3.02,7.4)(3.0,7.7)(2.93,5.5)(2.90,5.4)(2.95,5.7)(2.75,8.4)
(2.77,8.7)(2.78,8.1)(2.79,8.4)(2.75,9.6)(2.76,10.0)(2.78,9.5)(2.76,9.1)(2.80,9.0)(2.81,8.8)(2.83,8.5)
(2.85,8.7)(2.86,9.0)(2.87,9.5)(2.88,8.8)(2.87,8.3)(2.90,8.6)(2.92,8.3)(2.93,8.5)(2.96,8.2)(2.98,8.3)
(2.99,8.9)(2.98,9.7)(2.99,9.9)(3.02,10.2)(3.05,9.8)(3.06,8.5)(3.05,8.2)(3.08,8.8)(3.09,9.1)(3.12,10.0)
(3.15,10.45)(3.23,9.5)(3.15,7.6)(3.05,6.2)(3.06,5.9)(3.07,5.2)(3.09,4.4)(3.18,4.4)(3.19,4.6)(3.18,3.9)
(3.15,2.85)(2.68,11.3)(2.70,11.5)(2.71,11.2)(2.72,11.75)(2.73,11.6)(2.74,11.4)(2.75,11.7)(2.76,11.5)
(2.77,11.2)(2.78,12.1)(2.79,11.8)(2.80,11.4)(2.81,12.3)(2.82,12.2)(2.83,11.9)(2.84,12.2)(2.83,11.3)(2.85,11.8)
(2.87,12.4)(2.88,12.8)(2.89,12.9)(2.90,13)(2.91,13.1)(2.93,13.2)(2.95,13.4)(2.96,13.7)(2.97,13.2)(2.95,12.9)
(2.94,12.5)(2.92,12.2)(2.90,12.4)(2.88,12.0)(2.90,11.6)(2.93,11.9)(2.95,11.5)(2.97,11.8)(2.99,12.2)(3.0,12.6)
(2.98,12.9)(3.03,13.5)(3.03,13.7)(3.06,14.0)(3.08,14.1)(3.15,14.15)(3.06,12.5)(3.06,12.1)(3.08,11.9)(3.11,12.6)
(3.14,12.3)(3.12,11.7)(3.14,11.6)(3.10,11.2)(2.99,11.2)(3.01,11.2)(2.95,10.7)(2.97,10.6)(2.78,10.9)(2.80,10.6)
(2.81,10.4)(2.82,10.1)(2.83,9.9)(2.84,10.0)(2.85,10.2)(2.86,10.5)(2.87,10.8)(2.84,10.7)(2.82,11.0)(2.85,11.1)
(2.86,11.3)(2.83,9.7)(2.85,9.7)(2.89,9.7)(2.90,9.5)(2.91,9.0)(2.92,10.5)(2.94,11.0)(2.93,10.9)(2.91,11.2)
(2.92,12.6)(2.94,12.9)(2.96,12.6)(2.98,12.5)(2.93,13.0)(2.90,12.8)(2.88,12.5)(2.96,13.1)(2.96,12.2)(2.94,12.0)
(2.78,1.2)(2.80,1.6)(2.81,1.0)(2.82,1.8)(2.83,1.3)(2.84,1.7)(2.85,1.1)(2.86,1.9)(2.87,1.5)(2.88,1.3)
(2.89,1.7)(2.90,1.0)(2.91,1.4)(2.92,2.3)(2.93,1.8)(2.94,1.2)(2.95,1.6)(2.96,2.0)(2.97,1.4)(2.98,1.9)
(2.99,1.2)(3.00,1.7)(3.01,1.3)(3.02,1.6)(3.03,1.4)(3.04,1.2)(3.05,1.6)(3.06,1.4)(3.08,1.6)(3.10,1.5)
(3.12,1.5)(3.14,1.6)(3.16,1.65)(3.13,1.2)(3.09,1.1)(3.06,1.0)(3.27,1.3)(3.35,1.1)(3.42,0.95)(3.49,0.9)
(3.51,0.95)(3.47,0.7)(3.55,0.8)(3.61,0.85)(3.77,1.6)(3.51,0.4)(3.55,0.4)(3.48,0.55)
(2.73,0.6)(2.74,0.8)(2.75,0.5)(2.76,0.9)(2.77,0.6)(2.78,0.4)(2.79,0.7)(2.80,0.5)(2.81,0.8)(2.82,0.4)
(2.83,0.6)(2.84,0.9)(2.84,0.4)(2.85,0.7)(2.86,0.4)(2.86,1.0)(2.87,0.5)(2.87,0.8)(2.88,0.4)(2.88,0.9)
(2.89,0.5)(2.89,0.7)(2.90,0.4)(2.90,0.9)(2.91,0.5)(2.91,0.7)(2.92,0.4)(2.92,1.0)(2.93,0.5)(2.93,0.8)
(2.94,0.4)(2.94,1.0)(2.95,0.5)(2.95,0.8)(2.96,0.4)(2.96,1.0)(2.97,0.5)(2.97,0.8)(2.98,0.4)(2.98,1.0)
(2.99,0.5)(2.99,0.8)(3.00,0.4)(3.00,1.0)(3.01,0.6)(3.01,0.8)(3.02,0.4)(3.02,1.0)(3.03,0.5)(3.03,0.8)
(3.04,0.4)(3.04,0.9)(3.05,0.5)(3.05,0.8)(3.06,0.4)(3.06,0.7)(3.07,0.5)(3.07,0.9)(3.08,0.4)(3.08,0.7)
(3.09,0.5)(3.09,0.8)(3.10,0.4)(3.10,0.7)(3.11,0.5)(3.11,0.8)(3.12,0.4)(3.12,0.6)(3.13,0.5)(3.13,0.8)
(3.14,0.4)(3.14,0.6)(3.15,0.5)(3.15,0.8)(3.16,0.4)(3.16,0.6)(3.17,0.4)(3.17,0.7)(3.18,0.3)(3.18,0.5)
(3.19,0.4)(3.19,0.6)(3.20,0.3)(3.20,0.5)(3.21,0.4)(3.22,0.3)(3.22,0.5)(3.23,0.4)(3.24,0.3)(3.24,0.5)
(3.25,0.4)(3.25,0.7)(3.26,0.3)(3.26,0.9)(3.27,0.4)(3.27,0.6)(3.28,0.3)(3.28,0.8)(3.29,0.4)(3.29,0.6)
(3.30,0.3)(3.30,0.5)(3.31,0.4)(3.31,0.7)(3.32,0.3)(3.32,0.5)(3.33,0.4)(3.33,0.7)(3.34,0.3)(3.34,0.5)
(3.35,0.4)(3.35,0.6)(3.36,0.3)(3.36,0.5)(3.37,0.4)(3.37,0.7)(3.38,0.3)(3.38,0.6)(3.39,0.4)(3.39,0.7)
(3.40,0.3)(3.40,0.5)(3.41,0.4)(3.42,0.3)(3.42,0.6)(3.43,0.4)(3.44,0.3)(3.44,0.5)(3.45,0.4)(3.46,0.5)
};
\end{axis}

% panel C, second scatter
\begin{axis}[scat,at={(467pt,403pt)},anchor=south west,lab={-40pt}{67pt},
  width=290pt,
  xmin=0,xmax=1000,xtick={0,200,...,1000},ymin=0,ymax=1000,ytick={0,100,...,1000},
  title={Spearman correlation = -0.647\\p-value = 1e-12\\Time point = 9}]
\addplot[dotplot] coordinates {
(5,540)(5,630)(8,660)(10,700)(12,740)(15,780)(18,850)(20,620)(22,690)(25,720)(28,760)(30,870)(32,640)(35,680)
(38,810)(40,590)(42,710)(45,750)(48,790)(50,850)(52,610)(55,690)(58,720)(60,780)(62,880)(65,920)(68,640)(70,700)
(72,750)(75,810)(78,860)(80,900)(82,690)(85,770)(88,830)(90,870)(92,910)(95,640)(98,710)(100,440)(102,840)(105,920)
(108,650)(112,510)(113,480)(115,350)(118,690)(120,790)(122,830)(125,870)(128,940)(130,640)(132,760)(135,800)(138,900)
(140,620)(142,740)(145,410)(148,670)(150,930)(152,550)(155,475)(158,880)(160,780)(162,830)(165,550)(168,675)(170,475)
(172,860)(175,820)(178,950)(182,295)(185,580)(188,620)(190,850)(192,600)(195,740)(198,830)(200,560)(203,680)(205,430)
(208,940)(210,830)(212,590)(215,760)(218,450)(220,330)(222,650)(225,540)(228,500)(230,800)(232,630)(235,710)(238,860)
(240,610)(242,750)(245,900)(250,480)(252,860)(255,580)(258,415)(262,240)(265,830)(268,700)(270,960)(272,640)(275,480)
(278,810)(280,505)(285,240)(288,300)(292,700)(295,235)(298,800)(300,640)(302,190)(305,500)(308,530)(310,480)(312,360)
(315,925)(318,880)(320,100)(322,640)(325,430)(328,310)(332,360)(335,950)(338,560)(340,200)(342,520)(345,985)(348,720)
(350,430)(352,270)(355,620)(358,980)(360,560)(362,230)(365,790)(368,365)(370,530)(372,435)(375,170)(378,605)(380,250)
(382,890)(385,590)(388,420)(390,360)(392,760)(395,270)(398,140)(400,600)(402,155)(405,945)(408,410)(410,730)(412,320)
(415,680)(418,990)(420,160)(422,230)(425,905)(428,530)(430,400)(432,990)(435,125)(438,330)(440,640)(442,910)(445,340)
(448,290)(450,570)(452,985)(455,110)(458,610)(460,820)(462,560)(465,980)(468,520)(470,670)(472,230)(475,580)(478,960)
(480,200)(482,440)(485,690)(488,570)(490,760)(492,380)(495,210)(498,880)(500,120)(503,600)(505,370)(508,860)(510,570)
(515,190)(518,310)(520,940)(522,550)(525,70)(528,370)(530,590)(532,280)(535,830)(538,120)(540,380)(542,145)(545,450)
(548,280)(550,630)(552,115)(555,180)(558,250)(560,580)(562,70)(565,760)(568,300)(570,540)(572,190)(575,995)(578,70)
(580,830)(582,490)(585,300)(588,640)(590,110)(592,60)(595,720)(598,440)(600,270)(602,790)(605,540)(608,220)(610,130)
(612,400)(615,960)(618,720)(620,340)(622,250)(625,820)(628,180)(630,370)(632,130)(635,920)(638,70)(640,300)(642,500)
(645,280)(648,630)(650,30)(652,990)(655,100)(658,350)(660,800)(662,70)(665,440)(668,990)(670,230)(672,540)(675,670)
(678,90)(680,300)(682,40)(685,510)(688,160)(690,880)(692,350)(695,100)(698,50)(700,280)(703,470)(705,30)(708,180)
(710,490)(712,120)(715,300)(718,500)(720,180)(722,410)(725,140)(728,360)(730,970)(733,820)(735,90)(738,890)(740,40)
(742,200)(745,360)(748,150)(750,900)(752,300)(755,40)(758,950)(760,200)(762,430)(765,110)(768,770)(770,1000)(772,230)
(775,60)(778,630)(780,190)(782,840)(785,20)(788,280)(790,100)(792,450)(795,10)(798,60)(800,210)(802,520)(805,100)
(808,30)(810,320)(812,70)(815,670)(818,430)(820,650)(822,250)(825,60)(828,420)(830,20)(832,150)(835,320)(838,70)
(840,400)(842,100)(845,200)(848,30)(850,280)(852,410)(855,80)(858,10)(860,350)(862,110)(865,30)(868,380)(870,240)
(872,820)(875,10)(878,70)(880,450)(882,20)(885,320)(888,390)(890,10)(892,350)(895,150)(898,20)(900,260)(902,30)
(905,530)(908,10)(910,310)(912,180)(915,560)(918,40)(920,380)(922,240)(925,20)(928,170)(930,450)(932,30)(935,300)
(938,10)(940,200)(942,40)(945,480)(948,110)(950,260)(952,400)(955,60)(958,545)(960,360)(962,140)(965,430)(968,85)
(970,490)(972,320)(975,405)(978,10)(980,530)(982,200)(985,380)(988,290)(990,500)(992,340)(995,575)(995,410)
(10,640)(14,680)(24,670)(34,720)(44,660)(54,640)(16,760)(26,790)(46,830)(66,800)(76,890)(86,730)(96,860)(106,730)
(116,770)(126,660)(136,630)(146,700)(156,850)(166,840)(176,850)(186,920)(196,730)(206,770)(216,820)(226,850)(236,780)
(246,860)(256,840)(266,600)(276,970)(286,810)(296,960)(306,880)(316,470)(326,990)(336,440)(346,480)(356,970)(366,730)
(376,790)(386,750)(396,930)(406,620)(416,1000)(426,990)(436,670)(446,830)(456,950)(466,650)(476,830)(486,950)(496,670)
(516,710)(526,850)(536,730)(546,470)(556,310)(566,500)(576,470)(586,530)(596,170)(606,390)(616,290)(626,390)(636,810)
(646,350)(656,170)(666,80)(676,300)(686,40)(696,350)(706,110)(716,280)(726,220)(736,230)(746,290)(756,120)(766,180)
(776,240)(786,130)(796,60)(806,300)(816,200)(826,90)(836,20)(846,410)(856,300)(866,270)(876,400)(886,60)(896,50)
(906,170)(916,50)(926,60)(936,30)(946,230)(956,20)(966,460)(976,310)(986,430)(996,300)
(3,690)(8,720)(12,650)(18,700)(22,760)(28,640)(33,780)(38,660)(43,700)(48,740)(53,670)(58,760)(63,690)(68,780)
(73,660)(78,720)(83,800)(88,680)(93,740)(103,790)(108,870)(113,920)(118,880)(123,760)(128,810)(133,850)(138,700)
(143,930)(148,860)(153,800)(158,690)(163,870)(168,740)(173,640)(178,560)(183,700)(188,780)(193,850)(198,650)
(203,790)(208,860)(213,540)(218,730)(223,570)(228,680)(233,830)(238,450)(243,640)(248,730)(253,790)(258,690)
(263,560)(268,480)(273,760)(278,590)(283,640)(288,520)(293,590)(298,730)(303,470)(308,510)(313,550)(318,640)
(323,570)(328,960)(333,460)(338,620)(343,700)(348,590)(353,490)(358,730)
(702,190)(712,60)(722,260)(732,170)(742,110)(752,60)(762,320)(772,140)(782,70)(792,230)(802,150)(812,30)(822,110)
(832,230)(842,60)(852,130)(862,20)(872,170)(882,100)(892,270)(902,120)(912,20)(922,90)(932,20)(942,150)(952,340)
(962,60)(972,440)(982,30)(992,130)(610,240)(620,190)(630,270)(640,70)(650,230)(660,130)(670,300)(680,190)(690,270)
(600,100)(590,250)(580,320)(570,300)(560,240)(550,350)(540,420)(530,320)(520,380)(510,170)(500,220)
(950,10)(920,10)(900,10)(885,15)(870,20)(860,40)(850,70)(830,60)(790,40)(780,20)(770,50)(760,90)(930,60)(940,15)
(520,560)(530,520)(540,470)(560,460)(570,430)(580,510)(590,470)(610,470)(620,400)(640,370)(660,360)(680,310)(700,430)
(710,470)(400,480)(420,510)(440,560)(460,540)(470,620)(480,600)(500,570)(510,600)(530,600)(380,540)(370,600)(360,670)
(340,590)(320,560)(300,480)(310,460)
};
\end{axis}

% panel C, third scatter
\begin{axis}[scat,at={(467pt,63pt)},anchor=south west,lab={-43pt}{69pt},
  width=290pt,
  xmin=-800,xmax=600,xtick={-800,-600,...,600},ymin=-600,ymax=600,ytick={-600,-400,...,600},
  title={PRCC = -0.72715\\p-value = 3.1128e-165\\Time point = 9}]
\addplot[dotplot] coordinates {
(-650,475)(-645,400)(-640,445)(-625,400)(-615,420)(-610,380)(-600,450)(-590,430)(-580,395)(-570,370)(-565,455)(-555,410)
(-545,330)(-540,450)(-530,395)(-525,355)(-520,430)(-510,300)(-505,375)(-500,340)(-495,400)(-490,270)(-480,230)(-475,350)
(-470,310)(-460,390)(-455,280)(-450,370)(-440,230)(-435,320)(-430,270)(-425,400)(-420,350)(-415,290)(-410,470)(-405,210)
(-400,340)(-395,270)(-390,480)(-385,240)(-380,200)(-375,360)(-370,310)(-365,180)(-360,260)(-355,330)(-350,220)(-345,160)
(-340,280)(-335,240)(-330,190)(-325,130)(-320,220)(-315,310)(-310,95)(-305,250)(-300,180)(-295,350)(-290,70)(-285,140)
(-280,470)(-275,40)(-270,210)(-265,490)(-260,110)(-255,170)(-250,30)(-245,350)(-240,130)(-235,-15)(-230,60)(-225,190)
(-220,-30)(-215,330)(-213,-150)(-210,420)(-205,100)(-200,60)(-195,450)(-190,-60)(-185,20)(-180,130)(-175,-20)(-170,480)
(-165,-90)(-160,80)(-155,290)(-150,-70)(-145,420)(-140,480)(-135,30)(-130,370)(-125,-130)(-120,470)(-115,270)(-110,-180)
(-105,-110)(-100,120)(-95,240)(-90,-70)(-85,-190)(-80,-420)(-75,-210)(-70,60)(-65,-130)(-60,-170)(-55,240)(-50,-100)
(-45,-170)(-40,320)(-35,40)(-30,-430)(-25,-170)(-20,-60)(-15,60)(-10,-290)(-5,-130)(0,-300)(5,0)(10,-100)(15,-460)
(20,-140)(25,-270)(30,-40)(35,-340)(40,-480)(45,-170)(50,-370)(55,-60)(60,-100)(65,-500)(70,-30)(75,-200)(80,-350)
(85,-130)(90,90)(95,-210)(100,-60)(105,-460)(110,-290)(115,500)(120,-180)(125,-110)(130,-430)(135,-190)(140,-300)
(145,-210)(150,-500)(155,-140)(160,-350)(165,-260)(170,170)(175,-240)(180,-450)(185,-170)(190,-300)(195,510)(200,-470)
(205,-260)(210,-80)(215,-350)(220,210)(225,-490)(230,-300)(235,100)(240,-420)(245,-130)(250,-280)(255,-360)(260,-60)
(265,250)(270,-490)(275,-20)(280,-420)(285,-90)(290,-250)(295,120)(300,-130)(305,-400)(310,-490)(315,270)(320,-200)
(325,-310)(330,-80)(335,-440)(340,-170)(345,-300)(350,-50)(355,-490)(360,-270)(365,-380)(370,-170)(375,-330)(380,-480)
(385,-200)(390,-410)(395,-300)(400,-370)(405,-260)(410,-440)(415,-300)(420,-360)(425,-400)(430,-340)(440,-370)(445,-460)
(450,-400)(460,-360)(470,-400)(480,-430)(490,-440)(500,-410)(510,-440)(520,-470)(530,-470)(545,-460)
(-500,440)(-480,410)(-470,360)(-460,290)(-450,330)(-445,300)(-440,360)(-430,340)(-420,210)(-410,260)(-400,240)(-395,310)
(-390,210)(-385,300)(-380,260)(-375,210)(-370,170)(-365,240)(-360,200)(-355,170)(-350,190)(-345,260)(-340,150)(-335,200)
(-330,170)(-325,230)(-320,180)(-315,150)(-310,330)(-300,370)(-295,120)(-290,170)(-285,220)(-280,130)(-275,100)(-270,170)
(-265,350)(-260,190)(-255,110)(-250,60)(-245,150)(-240,90)(-235,70)(-230,130)(-225,110)(-220,170)(-215,90)(-210,60)
(-205,40)(-200,90)(-195,120)(-190,30)(-185,100)(-180,50)(-175,-50)(-170,220)(-165,30)(-160,-60)(-150,370)(-145,290)
(-140,-100)(-135,210)(-130,130)(-125,100)(-120,-140)(-115,90)(-110,-80)(-105,200)(-100,-60)(-95,120)(-90,60)(-85,-30)
(-80,150)(-75,100)(-70,-100)(-65,40)(-60,110)(-55,-30)(-50,60)(-45,-130)(-40,-50)(-35,130)(-30,-90)(-25,60)(-20,-150)
(-15,-40)(-10,20)(-5,-100)(0,-60)(5,-160)(10,-30)(15,10)(20,-80)(25,40)(30,-120)(35,-50)(40,-150)(45,-20)(50,-90)
(55,-200)(60,-60)(65,-120)(70,-240)(75,-100)(80,-160)(85,-60)(90,-200)(95,-130)(100,-220)(105,-170)(110,-120)(115,-210)
(120,-160)(125,-250)(130,-180)(135,-220)(140,-140)(145,-270)(150,-170)(155,-240)(160,-290)(165,-190)(170,-310)(175,-210)
(180,-260)(185,-330)(190,-230)(195,-350)(200,-270)(205,-310)(210,-370)(215,-280)(220,-230)(225,-330)(230,-260)(235,-370)
(240,-300)(245,-250)(250,-350)(255,-290)(260,-400)(265,-310)(270,-360)(275,-270)(280,-40)(285,-330)(290,-60)(295,-390)
(300,-30)(305,-300)(310,-70)(320,-360)(330,-390)(340,-350)(350,-380)(360,-340)(370,-410)(380,-370)(390,-390)(400,-420)
(-130,-520)(-90,-480)(-70,-500)(-50,-490)(-40,-440)(-30,-460)(-20,-450)(-10,-470)(-100,-430)(20,-430)(30,-480)(50,-460)
(60,-390)(80,-480)(100,-470)(120,-420)(140,-490)(160,-460)(170,-430)(190,-500)(210,-410)(230,-470)(250,-450)(290,-480)
(330,-470)(370,-450)(20,-290)(30,-300)(10,-310)(50,-250)(40,-260)(60,-370)(70,-340)(90,-320)(100,-280)(140,-370)(130,-320)
(-440,470)(-400,460)(-380,410)(-350,460)(-320,470)(-300,460)(-290,420)(-260,420)(-250,450)(-240,430)(-230,470)(-225,420)
(-210,440)(-200,420)(-190,470)(-170,420)(-130,440)(-110,470)(-100,370)(-90,400)(-80,470)(-60,470)(-50,440)(-40,450)(-30,470)
(-20,380)(-10,370)(0,490)(10,420)(20,390)(30,490)(40,360)(50,450)(60,480)(70,430)(80,370)(90,420)(100,470)(110,330)
(120,340)(130,430)(140,340)(150,280)(160,220)(180,470)(195,480)(215,460)(230,190)(255,250)(290,130)(320,140)(280,80)
(320,20)(360,-50)(220,30)(230,-10)(190,-20)(250,-80)(260,-120)(280,-150)(300,-180)(320,-120)(340,-90)
(-500,350)(-490,320)(-480,370)(-470,280)(-465,240)(-455,340)(-445,260)(-435,230)(-425,290)(-415,340)(-405,300)(-395,230)
(-385,340)(-375,280)(-365,300)(-355,240)(-345,210)(-335,170)(-325,200)(-315,260)(-305,210)(-295,230)(-285,180)(-275,150)
(-265,120)(-255,230)(-245,200)(-235,140)(-225,70)(-215,40)(-205,140)(-195,20)(-185,-10)(-175,110)(-165,170)(-155,130)
(-145,60)(-135,-60)(-125,30)(-115,-10)(-105,60)(-95,-100)(-85,20)(-75,-60)(-65,-30)(-55,-90)(-45,20)(-35,-20)(-25,-110)
(-15,-100)(-5,-30)(5,-50)(15,-120)(25,-180)(35,-100)(45,-130)(55,-110)(65,-170)(75,-60)(85,-200)(95,-170)(105,-130)
(115,-170)(125,-200)(135,-130)(145,-170)(155,-200)(165,-230)(175,-280)(185,-220)(195,-270)(205,-230)(215,-320)(225,-270)
(235,-220)(245,-330)(255,-260)(265,-340)(275,-320)(285,-280)(295,-350)(305,-270)(315,-330)(325,-250)(335,-360)(345,-380)
(355,-300)(365,-340)(375,-290)(385,-340)(395,-370)(405,-330)(415,-390)(425,-360)(435,-400)(445,-380)(455,-370)(465,-430)
(475,-400)(485,-410)(495,-430)(505,-420)(515,-450)(-280,340)(-260,340)(-240,250)(-225,310)(-205,260)(-180,300)(-165,380)
(-150,310)(-140,250)(-125,310)(-115,190)(-105,250)(-95,310)(-85,270)(-70,290)(-60,230)(-50,300)(-40,220)(-30,230)(-20,210)
(-10,150)(10,280)(-170,-70)(-200,-10)(-230,20)(-260,30)(-140,-60)(-110,-140)(-95,-170)(-70,-200)(-60,-190)
};
\end{axis}
\end{tikzpicture}
\end{document}
